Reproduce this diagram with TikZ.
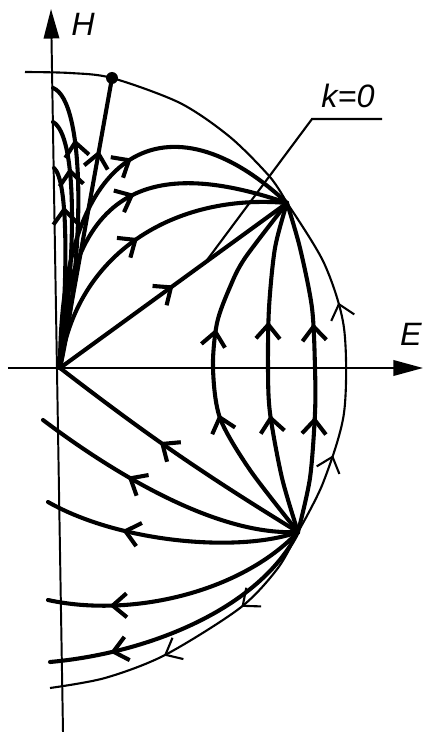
\documentclass[tikz,border=0pt]{standalone}
\usepackage{fontspec}
\setmainfont{Liberation Sans}
\usetikzlibrary{arrows.meta,decorations.markings,calc}

\tikzset{
  traj/.style={line width=2.9pt, line cap=round},
  sep/.style={line width=1.5pt},
  flow/.style={postaction={decorate, decoration={markings,
      mark=at position #1 with {\arrow{Straight Barb[length=10pt,width=17pt]}}}}},
  axis/.style={line width=1.4pt, -{Triangle[length=21pt,width=11pt]}},
  lbl/.style={font=\fontsize{23}{26}\selectfont\itshape},
}

\begin{document}
\begin{tikzpicture}[x=0.025cm, y=0.025cm]
  \useasboundingbox (-60,-364) rectangle (363,368);

  \coordinate (O)     at (  0,    0);
  \coordinate (n1)    at (227,  165);
  \coordinate (n2)    at (238, -164);
  \coordinate (dot)   at ( 52,  290);
  \coordinate (a0)    at (-35,  296);
  \coordinate (a1)    at (-10, -320);
  \coordinate (h1)    at ( -7,  280);
  \coordinate (h2)    at ( -7,  246);
  \coordinate (h3)    at ( -6,  200);
  \coordinate (l1)    at (-17,  -52);
  \coordinate (l2)    at (-12, -134);
  \coordinate (l3)    at (-12, -232);
  \coordinate (l4)    at (-10, -294);
  \coordinate (eL)    at (-52,    0);
  \coordinate (eR)    at (363,    0);
  \coordinate (hB)    at (  3, -364);
  \coordinate (hT)    at ( -9,  359);
  \coordinate (kfoot) at ($(O)!0.64!(n1)$);
  \coordinate (kbend) at (252,  249);
  \coordinate (kend)  at (322,  249);

  \draw[axis] (eL) -- (eR);
  \draw[axis] (hB) -- (hT);
  \node[lbl] (Hlab) at ( 23, 344) {H};
  \node[lbl] (Elab) at (351,  34) {E};
  \node[lbl] (klab) at (288, 272) {k=0};
  \draw[sep] (kfoot) -- (kbend) -- (kend);

  \draw[sep] plot[smooth] coordinates {(a0) (10,295) (dot) (120,265) (170,231) (210,191) (n1)};
  \draw[sep, flow=0.24, flow=0.68] plot[smooth] coordinates {(n2) (263,-115) (284,-45) (284,40) (264,105) (n1)};
  \draw[sep, flow=0.31, flow=0.61] plot[smooth] coordinates {(n2) (218,-200) (180,-240) (105,-287) (45,-310) (a1)};
  \fill (dot) circle[radius=6];

  \draw[traj, flow=0.5]  (O) -- (n1);
  \draw[traj, flow=0.5]  (O) .. controls (15,115) and (115,175) .. (n1);
  \draw[traj, flow=0.56] (O) .. controls (5,200)  and (110,205) .. (n1);
  \draw[traj, flow=0.57] (O) .. controls (0,225)  and (110,275) .. (n1);
  \draw[traj, flow=0.75] (O) -- (dot);
  \draw[traj, flow=0.8]  (O) .. controls (26,118) and (25,268) .. (h1);
  \draw[traj, flow=0.8]  (O) .. controls (17,118) and (17,233) .. (h2);
  \draw[traj, flow=0.8]  (O) .. controls (8,98)   and (8,188)  .. (h3);

  \draw[traj, flow=0.38, flow=0.61] plot[smooth] coordinates {(n2) (190,-102) (160,-50) (153,0) (157,45) (170,81) (185,110) (n1)};
  \draw[traj, flow=0.36, flow=0.64] plot[smooth] coordinates {(n2) (222,-110) (210,-45) (208,0) (209,60) (215,120) (n1)};
  \draw[traj, flow=0.35, flow=0.63] plot[smooth] coordinates {(n2) (250,-110) (255,-45) (255,0) (252,60) (240,120) (n1)};

  \draw[traj, flow=0.57] (n2) to[bend left=3] (O);
  \draw[traj, flow=0.64] (n2) .. controls (160,-168) and (60,-110) .. (l1);
  \draw[traj, flow=0.69] (n2) .. controls (180,-185) and (60,-175) .. (l2);
  \draw[traj, flow=0.77] (n2) .. controls (180,-225) and (70,-250) .. (l3);
  \draw[traj, flow=0.79] (n2) .. controls (200,-240) and (90,-285) .. (l4);
\end{tikzpicture}
\end{document}
